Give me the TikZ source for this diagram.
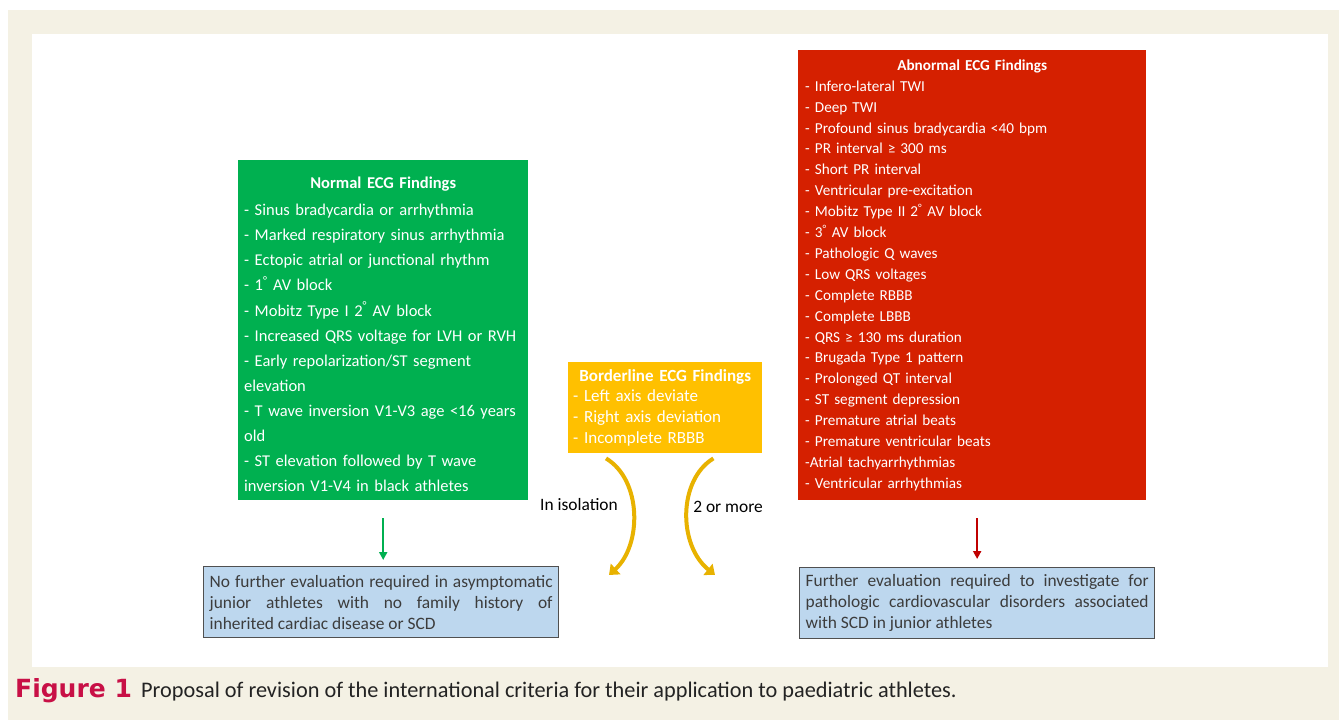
\documentclass[tikz,border=0pt]{standalone}
\usepackage{fontspec}
\setmainfont{Carlito}
\newfontfamily\figlabelfont{DejaVu Sans}
\usepackage{tikz}
\usetikzlibrary{arrows.meta}
\usepackage{xcolor}
\definecolor{pagebeige}{RGB}{244,241,228}
\definecolor{normgreen}{RGB}{0,176,80}
\definecolor{borderyellow}{RGB}{255,192,0}
\definecolor{abnred}{RGB}{213,32,0}
\definecolor{arrowred}{RGB}{192,0,0}
\definecolor{outcomeblue}{RGB}{189,215,238}
\definecolor{outcomeline}{RGB}{80,80,80}
\definecolor{outcometext}{RGB}{60,60,60}
\definecolor{curvegold}{RGB}{232,178,0}
\definecolor{figred}{RGB}{200,16,70}
\definecolor{captiontext}{RGB}{35,35,35}
\tikzset{
  findbox/.style={anchor=north west,align=left,inner xsep=6pt,inner ysep=0pt,text=white,
    font=\fontsize{16.5}{25.1}\selectfont},
  findboxg/.style={findbox,fill=normgreen,text width=278pt,minimum height=340pt},
  findboxy/.style={findbox,fill=borderyellow,inner xsep=5pt,text width=184pt,minimum height=91pt,
    font=\fontsize{17}{20.8}\selectfont},
  findboxr/.style={findbox,fill=abnred,inner xsep=7pt,text width=334pt,minimum height=450pt,
    font=\fontsize{15.2}{20.9}\selectfont},
  outcome/.style={anchor=north west,draw=outcomeline,line width=1.3pt,fill=outcomeblue,align=justify,
    text=outcometext,inner xsep=6pt,inner ysep=0pt,text width=343pt,minimum height=71pt,
    font=\fontsize{17.4}{21}\selectfont},
  mainflow/.style={-{Triangle[length=8pt,width=8pt]},line width=2.2pt},
  bendflow/.style={-{Triangle[length=9pt,width=14pt]},line width=4pt,draw=curvegold},
  flowlabel/.style={font=\fontsize{17.4}{20}\selectfont,text=black,inner sep=1pt}
}
\newcommand{\boxtitle}[1]{\makebox[\linewidth]{\bfseries #1}}

\begin{document}
\begin{tikzpicture}[x=1pt,y=-1pt]
  \useasboundingbox (0,0) rectangle (1339,720);
  \fill[white] (0,0) rectangle (1339,720);
  \fill[pagebeige] (8,10) rectangle (1339,720);
  \fill[white] (32,34) rectangle (1328,667);

  % finding boxes
  \node[findboxg] (normal) at (238,160) {\rule{0pt}{20pt}\boxtitle{Normal ECG Findings}\\[2pt]
    - Sinus bradycardia or arrhythmia\\
    - Marked respiratory sinus arrhythmia\\
    - Ectopic atrial or junctional rhythm\\
    - 1\textsuperscript{\textdegree} AV block\\
    - Mobitz Type I 2\textsuperscript{\textdegree} AV block\\
    - Increased QRS voltage for LVH or RVH\\
    - Early repolarization/ST segment\\
    elevation\\
    - T wave inversion V1-V3 age <16 years\\
    old\\
    - ST elevation followed by T wave\\
    inversion V1-V4 in black athletes};
  \node[findboxy] (border) at (568,362) {\boxtitle{Borderline ECG Findings}\\
    - Left axis deviate\\
    - Right axis deviation\\
    - Incomplete RBBB};
  \node[findboxr] (abnormal) at (798,50) {\boxtitle{Abnormal ECG Findings}\\
    - Infero-lateral TWI\\
    - Deep TWI\\
    - Profound sinus bradycardia <40 bpm\\
    - PR interval ≥ 300 ms\\
    - Short PR interval\\
    - Ventricular pre-excitation\\
    - Mobitz Type II 2\textsuperscript{\textdegree} AV block\\
    - 3\textsuperscript{\textdegree} AV block\\
    - Pathologic Q waves\\
    - Low QRS voltages\\
    - Complete RBBB\\
    - Complete LBBB\\
    - QRS ≥ 130 ms duration\\
    - Brugada Type 1 pattern\\
    - Prolonged QT interval\\
    - ST segment depression\\
    - Premature atrial beats\\
    - Premature ventricular beats\\
    -Atrial tachyarrhythmias\\
    - Ventricular arrhythmias};

  % outcomes
  \node[outcome] (nofurther) at (203,566) {No further evaluation required in asymptomatic\linebreak
    junior athletes with no family history of\linebreak
    inherited cardiac disease or SCD};
  \node[outcome] (further) at (799,567) {Further evaluation required to investigate for\linebreak
    pathologic cardiovascular disorders associated\linebreak
    with SCD in junior athletes};

  \draw[mainflow,draw=normgreen,fill=normgreen,shorten <=18pt,shorten >=6pt] (normal.south) -- (normal.south |- nofurther.north);
  \draw[mainflow,draw=arrowred,fill=arrowred,shorten <=18pt,shorten >=8pt] (abnormal.south -| further.north) -- (further.north);

  \coordinate (isoend) at (609,575);
  \coordinate (moreend) at (715,575);
  \draw[bendflow] ([xshift=38pt,yshift=-5pt]border.south west) .. controls (642,480) and (642,545) .. (isoend);
  \draw[bendflow] ([xshift=-49pt,yshift=-5pt]border.south east) .. controls (678,480) and (678,545) .. (moreend);
  \node[flowlabel] (isolabel) at (579,505) {In isolation};
  \node[flowlabel] (morelabel) at (728,507) {2 or more};

  % caption
  \node[anchor=base west,inner sep=0pt,text=figred,font=\figlabelfont\fontsize{25}{28}\selectfont\bfseries] (figno) at (15,697) {Figure 1};
  \node[anchor=base west,inner sep=0pt,text=captiontext,font=\fontsize{22.3}{26}\selectfont] (figcap) at (141,697)
    {Proposal of revision of the international criteria for their application to paediatric athletes.};
\end{tikzpicture}
\end{document}
